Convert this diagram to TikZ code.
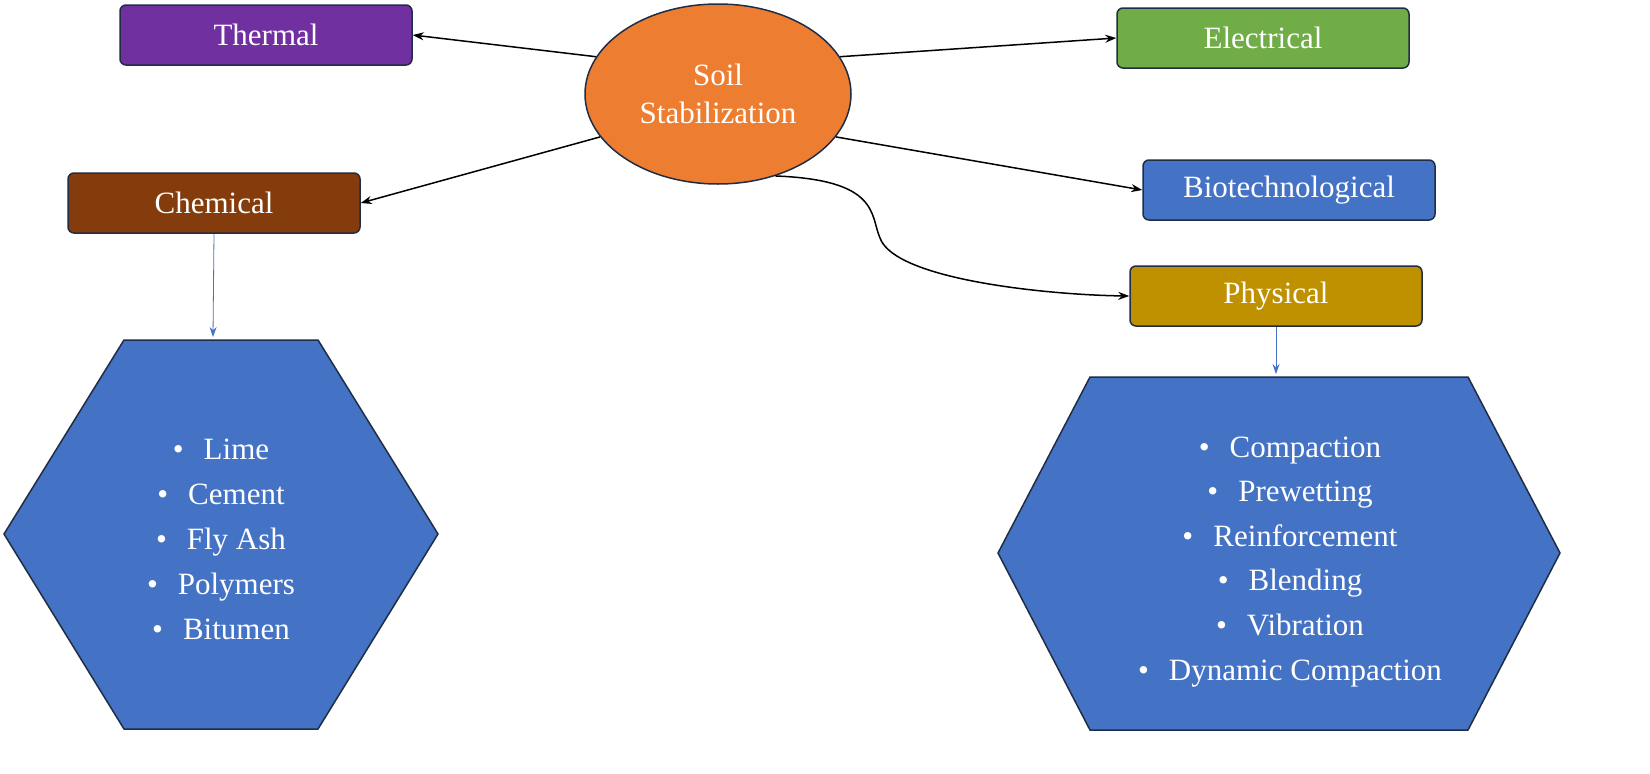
\documentclass[tikz,border=0pt]{standalone}
\usepackage{fontspec}
\setmainfont{Liberation Serif}
\usetikzlibrary{shapes.geometric,arrows.meta}
\definecolor{bord}{HTML}{1F2D45}
\definecolor{cpur}{HTML}{7030A0}
\definecolor{cgrn}{HTML}{70AD47}
\definecolor{cora}{HTML}{ED7D31}
\definecolor{cbrn}{HTML}{843C0C}
\definecolor{cblu}{HTML}{4472C4}
\definecolor{cgld}{HTML}{BF9000}
\begin{document}
\begin{tikzpicture}[x=1pt,y=-1pt,
  box/.style={draw=bord,line width=1.5pt,rounded corners=6pt,minimum width=292pt,minimum height=60pt,text=white,font=\fontsize{31}{36}\selectfont,inner sep=0pt},
  arr/.style={-{Stealth[length=11pt,width=8pt]},line width=1.5pt,black},
  barr/.style={-{Stealth[length=10pt,width=7pt]},line width=0.8pt,cblu},
  hex/.style={draw=bord,line width=1.5pt,fill=cblu},
  item/.style={text=white,font=\fontsize{31}{36}\selectfont,anchor=base}]
\useasboundingbox (0,0) rectangle (1650,774);
\fill[white] (0,0) rectangle (1650,774);
\node[box,fill=cpur] (th) at (266,35) {Thermal};
\node[box,fill=cgrn] (el) at (1263,38) {Electrical};
\node[box,fill=cbrn] (ch) at (214,203) {Chemical};
\node[box,fill=cblu] (bi) at (1289,190) {Biotechnological};
\node[box,fill=cgld] (ph) at (1276,296) {Physical};
\node[ellipse,draw=bord,line width=1.5pt,fill=cora,minimum width=266pt,minimum height=180pt,text=white,align=center,font=\fontsize{31}{38}\selectfont] (so) at (718,94) {Soil\\Stabilization};
\draw[arr] (so.163) -- (th.east);
\draw[arr] (so.17) -- (el.west);
\draw[arr] (so.-160) -- (ch.east);
\draw[arr] (so.-20) -- (bi.west);
\draw[arr] (so.-55) .. controls (880,180) and (870,215) .. (880,238) .. controls (895,280) and (1050,295) .. (ph.west);
\draw[hex] (4,534) -- (124,340) -- (318,340) -- (438,534) -- (318,729) -- (124,729) -- cycle;
\draw[hex] (998,553) -- (1090,377) -- (1468,377) -- (1560,553) -- (1468,730) -- (1090,730) -- cycle;
\coordinate (lh) at (213,337);
\coordinate (rh) at (1276,374);
\draw[barr] (ch.south) -- (lh);
\draw[barr] (ph.south) -- (rh);
\foreach \t [count=\i] in {Lime,Cement,Fly Ash,Polymers,Bitumen}
  \node[item] (l\i) at (221,{459+45*(\i-1)}) {\textbullet\hspace{20pt}\t};
\foreach \t [count=\i] in {Compaction,Prewetting,Reinforcement,Blending,Vibration,Dynamic Compaction}
  \node[item] (r\i) at (1290,{457+44.6*(\i-1)}) {\textbullet\hspace{20pt}\t};
\end{tikzpicture}
\end{document}
